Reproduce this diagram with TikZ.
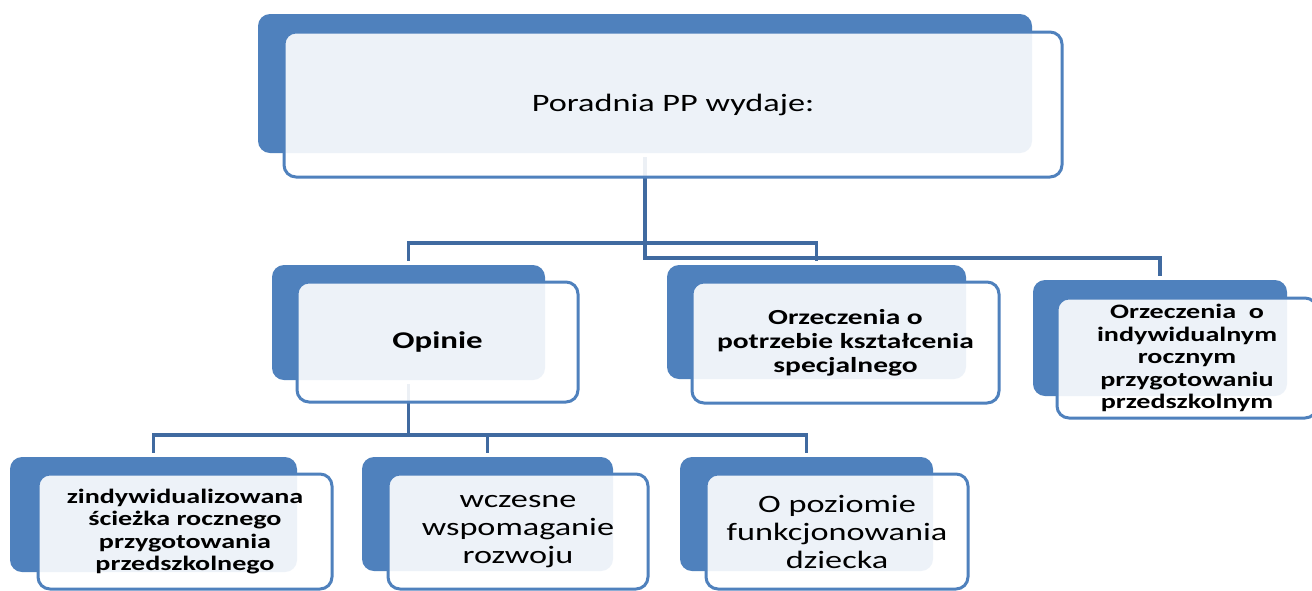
\documentclass[tikz,border=0pt]{standalone}
\usepackage{fontspec}
\setmainfont{Carlito}[FakeStretch=1.37]
\definecolor{ramka}{RGB}{79,129,189}
\definecolor{linia}{RGB}{64,106,160}
\tikzset{
  wh/.style 2 args={minimum width=#1pt, minimum height=#2pt},
  tlo/.style={fill=ramka, rounded corners=12pt, inner sep=0pt},
  kafel/.style={
    draw=ramka, line width=3pt, fill=white, fill opacity=0.9, text opacity=1,
    rounded corners=12pt, inner sep=0pt, align=center
  },
  laczenie/.style={draw=linia, line width=3.5pt, shorten <=4pt, shorten >=4pt},
  duzy/.style={font=\fontsize{25}{28}\selectfont},
  maly/.style={font=\fontsize{20.5}{22.5}\selectfont\bfseries},
}

\begin{document}
\begin{tikzpicture}[x=1pt,y=-1pt]
\useasboundingbox[fill=white] (0,0) rectangle (1312,590);
% tylne prostokaty
\node[tlo, wh={774}{139}] (top-b) at (645,83.5) {};
\node[tlo, wh={273}{115}] (opinie-b) at (408.5,322.5) {};
\node[tlo, wh={299}{114}] (potrzeba-b) at (816.5,322) {};
\node[tlo, wh={254}{116}] (roczne-b) at (1160,338) {};
\node[tlo, wh={287}{115}] (sciezka-b) at (153.5,514.5) {};
\node[tlo, wh={251}{114}] (wczesne-b) at (487.5,514) {};
\node[tlo, wh={253}{114}] (poziom-b) at (806.5,514) {};
% polaczenia
\foreach \c in {opinie,potrzeba}
  \draw[laczenie] (top-b.south) -- (top-b.south |- 0,243) -| (\c-b.north);
\draw[laczenie] (top-b.south) -- (top-b.south |- 0,258) -| (roczne-b.north);
\foreach \c in {sciezka,wczesne,poziom}
  \draw[laczenie] (opinie-b.south) -- (opinie-b.south |- 0,435) -| (\c-b.north);
% przednie prostokaty
\node[kafel, wh={778}{145}, duzy] (top) at (673,104.5) {Poradnia PP wydaje:};
\node[kafel, wh={281}{120}, font=\fontsize{24}{28}\selectfont\bfseries] (opinie) at (437.5,342) {Opinie};
\node[kafel, wh={307}{121}, font=\fontsize{21.5}{24}\selectfont\bfseries] (potrzeba) at (845.5,342.5)
  {Orzeczenia o\\potrzebie kształcenia\\specjalnego};
\node[kafel, wh={260}{120}, maly] (roczne) at (1187,358)
  {Orzeczenia \ o\\indywidualnym\\rocznym\\przygotowaniu\\przedszkolnym};
\node[kafel, wh={294}{115}, maly] (sciezka) at (185,531.5)
  {zindywidualizowana\\ścieżka rocznego\\przygotowania\\przedszkolnego};
\node[kafel, wh={260}{115}, duzy] (wczesne) at (518,531.5) {wczesne\\wspomaganie\\rozwoju};
\node[kafel, wh={262}{115}, duzy] (poziom) at (837,531.5) {O poziomie\\funkcjonowania\\dziecka};
\end{tikzpicture}
\end{document}
